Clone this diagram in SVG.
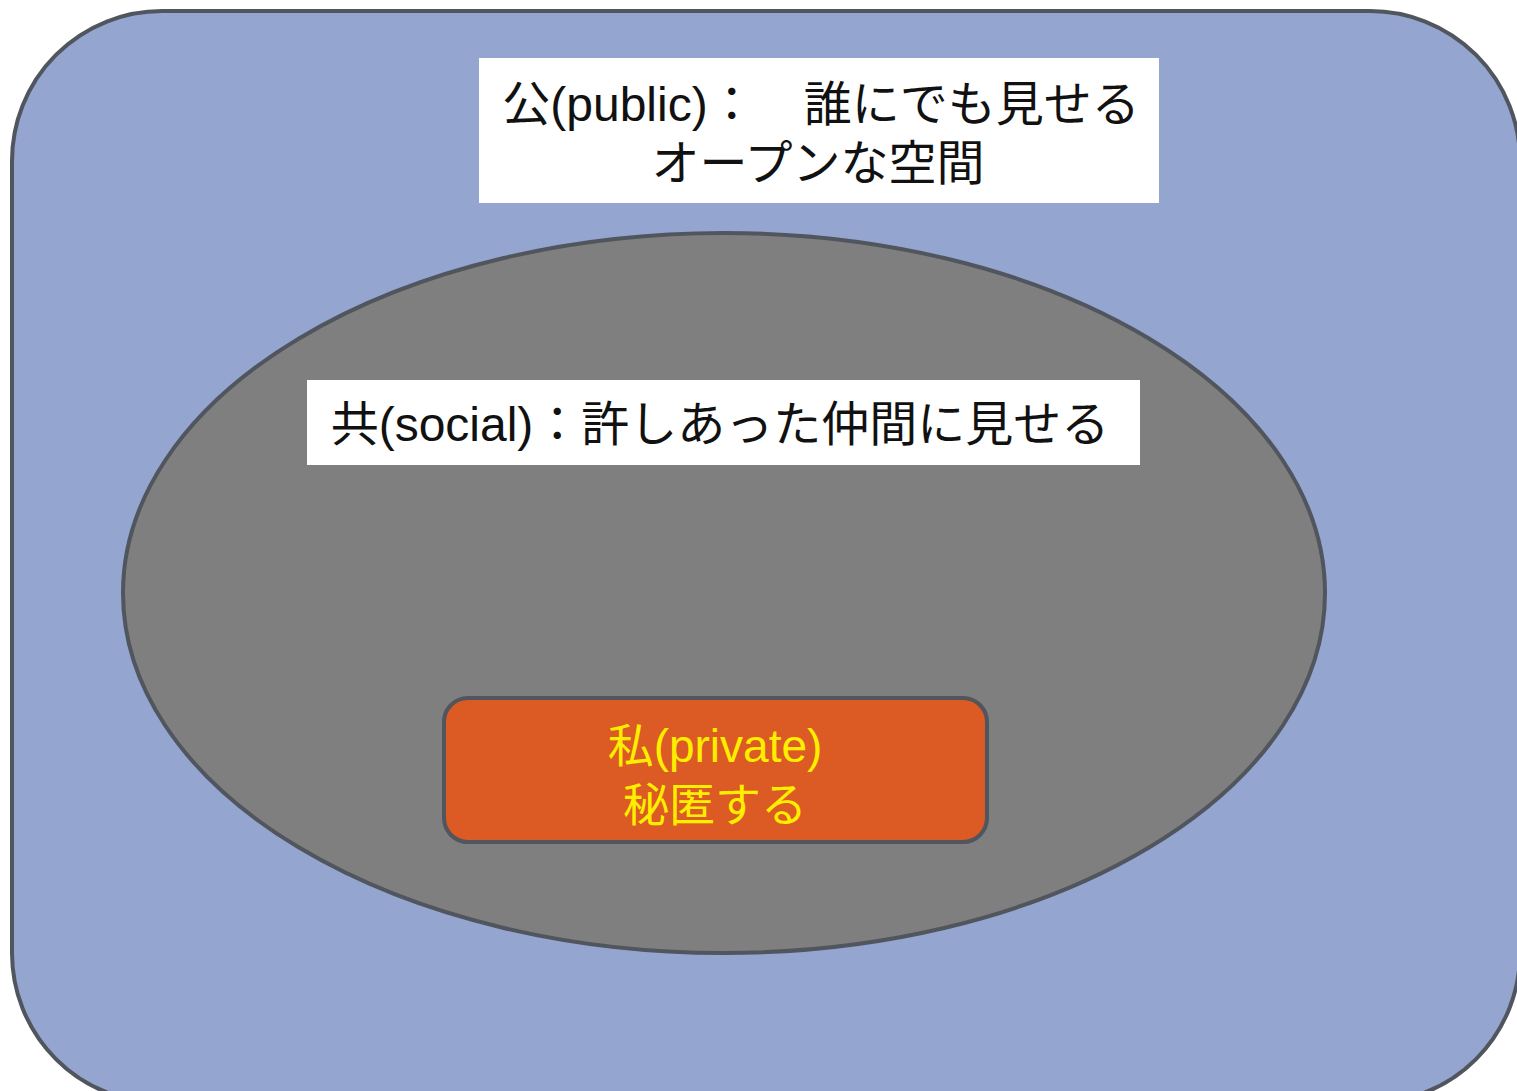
<svg xmlns="http://www.w3.org/2000/svg" width="1517" height="1091" viewBox="0 0 1517 1091">
<style>
.t{font-family:"Liberation Sans","Noto Sans CJK JP",sans-serif;text-anchor:middle}
.blk{fill:#111;font-size:48px}
.yel{fill:#ffee00;font-size:46px}
.edge{stroke:#50555e;stroke-width:4}
</style>
<rect width="1517" height="1091" fill="#ffffff"/>
<g id="public">
<rect class="edge" x="12" y="11" width="1508" height="1092" rx="150" ry="150" fill="#94a5cf"/>
<rect x="479" y="58" width="680" height="145" fill="#ffffff"/>
<text class="t blk" x="821" y="121">公(public)：　誰にでも見せる</text>
<text class="t blk" x="818" y="180">オープンな空間</text>
</g>
<g id="social">
<ellipse class="edge" cx="724" cy="593" rx="601" ry="360" fill="#7f7f7f"/>
<rect x="307" y="380" width="833" height="85" fill="#ffffff"/>
<text class="t blk" x="720" y="441">共(social)：許しあった仲間に見せる</text>
</g>
<g id="private">
<rect class="edge" x="444" y="698" width="543" height="144" rx="24" ry="24" fill="#dc5a23"/>
<text class="t yel" x="715" y="762">私(private)</text>
<text class="t yel" x="715" y="821">秘匿する</text>
</g>
<g id="connectors"/>
</svg>
